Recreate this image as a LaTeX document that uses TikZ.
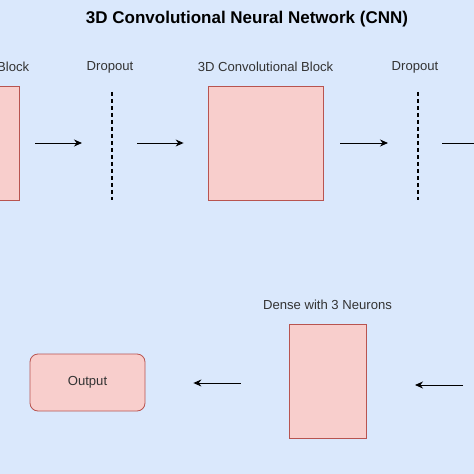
\documentclass[tikz,border=0pt]{standalone}
\usepackage{fontspec}
\setmainfont{Liberation Sans}
\usetikzlibrary{arrows.meta,positioning}
\definecolor{bgblue}{HTML}{DAE8FC}
\definecolor{boxfill}{HTML}{F8CECC}
\definecolor{boxline}{HTML}{B85450}
\definecolor{labelgray}{HTML}{333333}
\begin{document}
\begin{tikzpicture}[x=1pt,y=-1pt,
        block/.style={draw=boxline,fill=boxfill,line width=0.8pt,inner sep=0pt},
        droplayer/.style={inner sep=0pt,minimum width=0pt,minimum height=108pt},
        layerlabel/.style={text=labelgray,font=\fontsize{13.1}{15}\selectfont},
        flow/.style={-{Stealth[length=8pt,width=7pt]},line width=1pt,black}]
        % Background
        \clip (0,0) rectangle (474,474);
        \useasboundingbox (0,0) rectangle (474,474);
        \fill[bgblue] (0,0) rectangle (474,474);
        
        % Title
        \node (title) at (247,19) {\fontsize{17}{20}\selectfont\bfseries 3D Convolutional Neural Network (CNN)};
        
        % Top row
        \node[block,minimum width=115pt,minimum height=114pt] (conv1) at (-38.5,143) {};
        \node[droplayer] (drop1) at (112,146) {};
        \node[block,minimum width=115pt,minimum height=114pt] (conv2) at (265.5,143) {};
        \node[droplayer] (drop2) at (418,146) {};
        \coordinate (next) at (500,143);
        \draw[line width=1.6pt,dash pattern=on 4pt off 3pt] (drop1.north) -- (drop1.south);
        \draw[line width=1.6pt,dash pattern=on 4pt off 3pt] (drop2.north) -- (drop2.south);
        
        \node[layerlabel,above=10pt of conv1] (conv1lbl) {3D Convolutional Block};
        \node[layerlabel] (drop1lbl) at (110,67) {Dropout};
        \node[layerlabel,above=10pt of conv2] (conv2lbl) {3D Convolutional Block};
        \node[layerlabel] (drop2lbl) at (415,67) {Dropout};
        
        % Bottom row
        \node[block,minimum width=77pt,minimum height=114pt] (dense) at (327.5,381) {};
        \node[layerlabel,above=10pt of dense] (denselbl) {Dense with 3 Neurons};
        \node[block,rounded corners=8pt,minimum width=115pt,minimum height=57pt,
              layerlabel] (output) at (87.5,382.5) {Output};
        \coordinate (inR) at (463,385);
        \coordinate (inL) at (415,385);
        
        % Transition arrows
        \draw[flow,shorten <=16pt,shorten >=30pt] (conv1.east |- 0,143) -- (drop1 |- 0,143);
        \draw[flow,shorten <=25pt,shorten >=24pt] (drop1 |- 0,143) -- (conv2.west);
        \draw[flow,shorten <=17pt,shorten >=30pt] (conv2.east) -- (drop2 |- 0,143);
        \draw[flow,shorten <=24pt] (drop2 |- 0,143) -- (next);
        \draw[flow] (inR) -- (inL);
        \draw[flow,shorten <=48pt,shorten >=48pt] (dense.west |- 0,383) -- (output.east |- 0,383);
    \end{tikzpicture}
\end{document}
